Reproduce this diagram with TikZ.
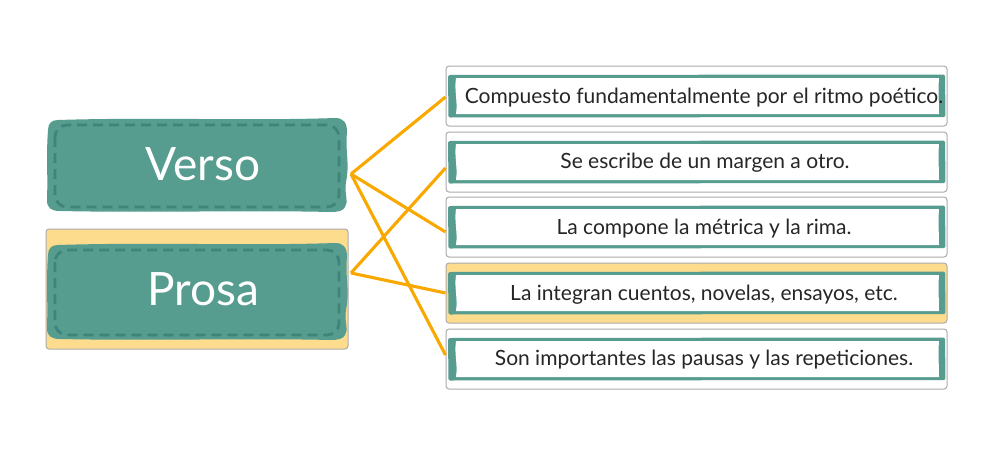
\documentclass[tikz,border=0pt]{standalone}
\usepackage{fontspec}
\setmainfont{Lato}
\usetikzlibrary{calc}
\definecolor{tealbox}{HTML}{569C8F}
\definecolor{tealdash}{HTML}{3F8479}
\definecolor{hl}{HTML}{FEDC8E}
\definecolor{ln}{HTML}{F9A800}
\definecolor{bd}{HTML}{ABABAB}
\newcommand\mywobble[2]{%
\fill[tealbox] (58,#1+2) .. controls (150,#1-1) and (250,#1+3) .. (335,#1) .. controls (344,#1) and (347,#1+5) .. (347,#1+14) .. controls (345,#1+35) and (350,#2-50) .. (346,#2-30) .. controls (344,#2-18) and (349,#2-10) .. (345,#2-5) .. controls (343,#2-1) and (338,#2) .. (330,#2) .. controls (250,#2-2) and (150,#2+1) .. (60,#2-1) .. controls (51,#2-1) and (47,#2-4) .. (47,#2-12) .. controls (48,#2-40) and (46,#1+40) .. (48,#1+12) .. controls (48,#1+5) and (52,#1+2) .. (58,#1+2) -- cycle;
\draw[dashbox] (55,#1+7) rectangle (339,#2-5);}
\newcommand\myframe[1]{%
\fill[tealbox, rounded corners=1.5pt] (448,#1+9) -- (945,#1+8.5) -- (945.5,#1+51) -- (448.5,#1+51.5) -- cycle;
\fill[white] (456,#1+12) -- (939,#1+12) .. controls (938,#1+25) and (939,#1+35) .. (939,#1+48) -- (456,#1+48) .. controls (458,#1+35) and (454,#1+25) .. (456,#1+12) -- cycle;}
\begin{document}
\begin{tikzpicture}[x=1pt,y=-1pt,
  outerbox/.style={draw=bd, line width=1pt, rounded corners=3pt, fill=white, minimum width=501pt, minimum height=60pt, inner sep=0pt},
  dashbox/.style={draw=tealdash, line width=2.8pt, dash pattern=on 10pt off 6pt, rounded corners=12pt},
  bigtxt/.style={text=white, font=\fontsize{46}{52}\selectfont, inner sep=0pt},
  smalltxt/.style={text=black!85, font=\fontsize{21}{25}\selectfont, inner sep=0pt},
  conn/.style={draw=ln, line width=3.1pt}]
\useasboundingbox (0,0) rectangle (997,461);
% left boxes
\node[draw=bd, line width=1pt, rounded corners=3pt, fill=hl, minimum width=302pt, minimum height=120pt, inner sep=0pt] (prosabg) at (197,289) {};
\mywobble{118}{212}
\mywobble{243}{340}
\node[bigtxt] (verso) at (203,164) {Verso};
\node[bigtxt] (prosa) at (203,289) {Prosa};
\coordinate (vout) at (351,174);
\coordinate (pout) at (351,273);
% right boxes
\node[outerbox] (r1) at (696.5,96) {};
\node[outerbox] (r2) at (696.5,162) {};
\node[outerbox] (r3) at (696.5,227) {};
\node[outerbox, fill=hl] (r4) at (696.5,293) {};
\node[outerbox] (r5) at (696.5,359) {};
\myframe{66}
\myframe{132}
\myframe{197}
\myframe{263}
\myframe{329}
\node[smalltxt] (t1) at (704,98) {Compuesto fundamentalmente por el ritmo poético.};
\node[smalltxt] (t2) at (705,163) {Se escribe de un margen a otro.};
\node[smalltxt] (t3) at (704,229) {La compone la métrica y la rima.};
\node[smalltxt] (t4) at (704,295) {La integran cuentos, novelas, ensayos, etc.};
\node[smalltxt] (t5) at (704,360) {Son importantes las pausas y las repeticiones.};
% connectors
\draw[conn] (vout) -- ($(r1.west)+(0,1)$);
\draw[conn] (vout) -- ($(r3.west)+(0,5)$);
\draw[conn] (vout) -- ($(r5.west)+(0,-4)$);
\draw[conn] (pout) -- ($(r2.west)+(0,6)$);
\draw[conn] (pout) -- (r4.west);
\end{tikzpicture}
\end{document}
